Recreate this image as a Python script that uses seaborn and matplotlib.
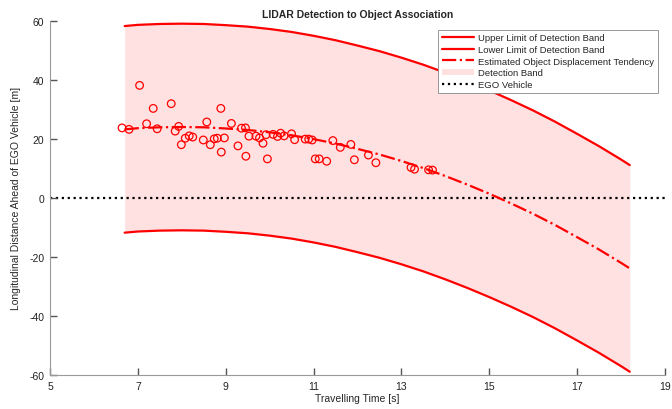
import numpy as np
import pandas as pd
import seaborn as sns
import matplotlib.pyplot as plt

# band / tendency curves
t_curve = [6.7, 7.0, 7.5, 8.0, 8.5, 9.0, 9.5, 10.0, 10.5, 11.0, 11.5, 12.0, 12.5,
           13.0, 13.5, 14.0, 14.5, 15.0, 15.5, 16.0, 16.5, 17.0, 17.5, 18.0, 18.2]
tendency = [23.2, 23.6, 23.9, 24.0, 23.9, 23.5, 23.0, 22.2, 21.2, 19.9, 18.4, 16.6, 14.7,
            12.5, 10.1, 7.4, 4.5, 1.4, -1.9, -5.4, -9.2, -13.3, -17.5, -22.0, -23.9]
upper = [58.2, 58.6, 58.9, 59.0, 58.9, 58.5, 58.0, 57.2, 56.2, 54.9, 53.4, 51.6, 49.7,
         47.5, 45.1, 42.4, 39.5, 36.4, 33.1, 29.6, 25.8, 21.7, 17.5, 13.0, 11.1]
lower = [-11.8, -11.4, -11.1, -11.0, -11.1, -11.5, -12.0, -12.8, -13.8, -15.1, -16.6, -18.4, -20.3,
         -22.5, -24.9, -27.6, -30.5, -33.6, -36.9, -40.4, -44.2, -48.3, -52.5, -57.0, -58.9]

# detected objects
t_obj = [6.64, 6.80, 7.04, 7.20, 7.35, 7.44, 7.76, 7.85, 7.93, 7.99, 8.08, 8.17, 8.25,
         8.49, 8.57, 8.65, 8.74, 8.81, 8.89, 8.90, 8.97, 9.13, 9.28, 9.36, 9.45, 9.46,
         9.53, 9.69, 9.77, 9.85, 9.92, 9.95, 10.08, 10.18, 10.25, 10.33, 10.50, 10.57,
         10.81, 10.89, 10.97, 11.04, 11.13, 11.30, 11.44, 11.61, 11.85, 11.93, 12.25,
         12.42, 13.22, 13.30, 13.62, 13.71]
d_obj = [23.7, 23.2, 38.1, 25.1, 30.3, 23.4, 31.9, 22.6, 24.2, 18.0, 20.2, 21.0, 20.6,
         19.6, 25.7, 18.0, 20.0, 20.2, 30.3, 15.5, 20.3, 25.2, 17.6, 23.6, 23.7, 14.1,
         20.9, 20.9, 20.3, 18.5, 21.4, 13.2, 21.5, 20.8, 21.9, 21.0, 21.7, 19.7,
         19.9, 19.9, 19.6, 13.2, 13.2, 12.4, 19.4, 17.1, 18.1, 12.9, 14.5,
         11.9, 10.3, 9.7, 9.5, 9.4]

x_range = [5, 19]

sns.set_style("ticks", {'xtick.direction': 'in', 'ytick.direction': 'in'})
plt.rcParams['font.family'] = ['Liberation Sans', 'DejaVu Sans']
plt.rcParams['axes.unicode_minus'] = False

curves = pd.DataFrame({'t': t_curve, 'mid': tendency, 'up': upper, 'low': lower})
objs = pd.DataFrame({'t': t_obj, 'd': d_obj})

fig = plt.figure(figsize=(6.72, 4.10), dpi=100)
ax = fig.add_axes([0.0744, 0.083, 0.915, 0.864])

ax.fill_between(curves['t'], curves['low'], curves['up'], color='#ffe1e1', lw=0,
                label='Detection Band', zorder=1)
sns.lineplot(data=curves, x='t', y='up', ax=ax, color='red', lw=1.6,
             label='Upper Limit of Detection Band', zorder=3)
sns.lineplot(data=curves, x='t', y='low', ax=ax, color='red', lw=1.6,
             label='Lower Limit of Detection Band', zorder=3)
sns.lineplot(data=curves, x='t', y='mid', ax=ax, color='red', lw=1.6, ls='-.',
             label='Estimated Object Displacement Tendency', zorder=3)
sns.scatterplot(data=objs, x='t', y='d', ax=ax, marker='o', s=30,
                facecolor='none', edgecolor='red', linewidth=0.9, zorder=4, legend=False)
ax.plot(x_range, [0, 0], color='black', ls=':', lw=1.6, label='EGO Vehicle', zorder=2)

# legend order as in the reference
h, l = ax.get_legend_handles_labels()
order = ['Upper Limit of Detection Band', 'Lower Limit of Detection Band',
         'Estimated Object Displacement Tendency', 'Detection Band', 'EGO Vehicle']
hd = dict(zip(l, h))
leg = ax.legend([hd[k] for k in order], order, loc='upper right', fontsize=6.8,
                frameon=True, fancybox=False, edgecolor='#888888', framealpha=1,
                handlelength=3.4, handletextpad=0.5, borderpad=0.4, labelspacing=0.28,
                bbox_to_anchor=(0.989, 0.975), borderaxespad=0)
leg.get_frame().set_linewidth(0.6)

ax.set_xlim(5, 19)
ax.set_ylim(-60, 60)
ax.set_xticks(range(5, 20, 2))
ax.set_yticks(range(-60, 61, 20))
sns.despine(ax=ax)
ax.tick_params(axis='both', which='major', bottom=True, left=True, direction='in',
               length=5, width=1.0, color='#555555', labelsize=7.5,
               labelcolor='#222222', pad=4)
for sp in ['left', 'bottom']:
    ax.spines[sp].set_color('#999999')
    ax.spines[sp].set_linewidth(0.8)
    ax.spines[sp].set_zorder(5)
ax.set_axisbelow(False)

ax.set_title('LIDAR Detection to Object Association', fontsize=7.5, fontweight='bold', pad=3)
ax.set_xlabel('Travelling Time [s]', fontsize=7.5, labelpad=2)
ax.set_ylabel('Longitudinal Distance Ahead of EGO Vehicle [m]', fontsize=7.5, labelpad=6)

fig.savefig('out.png', dpi=100)
